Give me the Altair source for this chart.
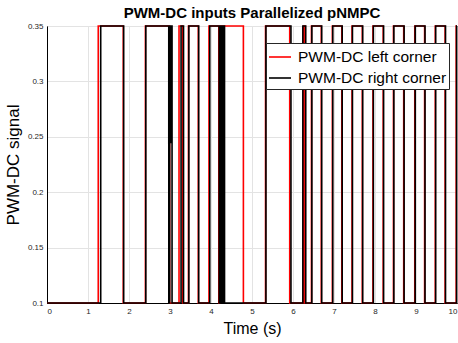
import altair as alt
import pandas as pd

# Switching times (s) and levels
left_t = [0, 1.25, 1.86, 2.40, 2.99, 3.22, 3.31, 3.45, 3.69, 3.95, 4.19, 4.21, 4.79,
          5.33, 5.92, 6.26, 6.30, 6.45, 6.69, 6.96, 7.19, 7.44, 7.69, 7.95, 8.20,
          8.45, 8.70, 8.97, 9.21, 9.47, 9.71, 9.98, 10.0]
left_v = [0.1, 0.35, 0.1, 0.35, 0.1, 0.35, 0.1, 0.35, 0.1, 0.35, 0.1, 0.35, 0.1,
          0.35, 0.1, 0.35, 0.1, 0.35, 0.1, 0.35, 0.1, 0.35, 0.1, 0.35, 0.1,
          0.35, 0.1, 0.35, 0.1, 0.35, 0.1, 0.35, 0.35]

right_t = [0, 1.31, 1.87, 2.41, 2.97, 2.99, 3.01, 3.03, 3.05, 3.27, 3.33, 3.46, 3.70,
           3.97, 4.20, 4.22, 4.24, 4.26, 4.28, 4.30, 4.33, 5.34, 5.95, 6.24, 6.31,
           6.46, 6.70, 6.97, 7.20, 7.45, 7.70, 7.96, 8.21, 8.46, 8.71, 8.98, 9.22,
           9.48, 9.72, 9.99, 10.0]
right_v = [0.1, 0.35, 0.1, 0.35, 0.1, 0.35, 0.245, 0.35, 0.1, 0.35, 0.1, 0.35, 0.1,
           0.35, 0.1, 0.35, 0.1, 0.35, 0.1, 0.35, 0.1, 0.35, 0.1, 0.35, 0.1,
           0.35, 0.1, 0.35, 0.1, 0.35, 0.1, 0.35, 0.1, 0.35, 0.1, 0.35, 0.1,
           0.35, 0.1, 0.35, 0.35]

series_names = ["PWM-DC left corner", "PWM-DC right corner"]
series_colors = ["#ff0000", "#000000"]
x_ticks = [0, 1, 2, 3, 4, 5, 6, 7, 8, 9, 10]
y_ticks = [0.1, 0.15, 0.2, 0.25, 0.3, 0.35]

df_left = pd.DataFrame({"t": left_t, "v": left_v, "s": series_names[0]})
df_right = pd.DataFrame({"t": right_t, "v": right_v, "s": series_names[1]})

FONT = "Liberation Sans"

x_enc = alt.X("t:Q", scale=alt.Scale(domain=[0, 10], nice=False, zero=False),
              axis=alt.Axis(values=x_ticks, format="d", title="Time (s)",
                            titleFontSize=16, titlePadding=5))
y_enc = alt.Y("v:Q", scale=alt.Scale(domain=[0.1, 0.35], nice=False, zero=False),
              axis=alt.Axis(values=y_ticks, format="~g", title="PWM-DC signal",
                            titleFontSize=17, titlePadding=5))
color_enc = alt.Color("s:N", scale=alt.Scale(domain=series_names, range=series_colors),
                      legend=alt.Legend(title=None))

line_left = alt.Chart(df_left).mark_line(interpolate="step-after", strokeWidth=1.6).encode(
    x=x_enc, y=y_enc, color=color_enc)
line_right = alt.Chart(df_right).mark_line(interpolate="step-after", strokeWidth=1.6).encode(
    x=x_enc, y=y_enc, color=color_enc)

chart = alt.layer(line_left, line_right).properties(
    width=410,
    height=277,
    autosize=alt.AutoSizeParams(type="none"),
    padding={"left": 47, "top": 26, "right": 1, "bottom": 40},
    title=alt.TitleParams("PWM-DC inputs Parallelized pNMPC", font=FONT, fontSize=15,
                          fontWeight="bold", anchor="middle", offset=1, color="#000000"),
).configure_view(
    stroke="#000000", strokeWidth=1
).configure_axis(
    labelFont=FONT, labelFontSize=8, labelColor="#262626",
    titleFont=FONT, titleFontWeight="normal", titleColor="#000000",
    gridColor="#e3e3e3", gridWidth=1, domainColor="#000000", domainWidth=1,
    ticks=False, labelPadding=4,
).configure_legend(
    orient="none", legendX=219, legendY=17,
    fillColor="#ffffff", strokeColor="#262626", strokeWidth=1, padding=2,
    labelFont=FONT, labelFontSize=15.5, labelColor="#000000", labelLimit=400,
    symbolType="stroke", symbolSize=484, symbolStrokeWidth=1.6, labelOffset=6,
    rowPadding=0,
)

chart.save("out.html", embed_options={"renderer": "svg", "actions": False})
